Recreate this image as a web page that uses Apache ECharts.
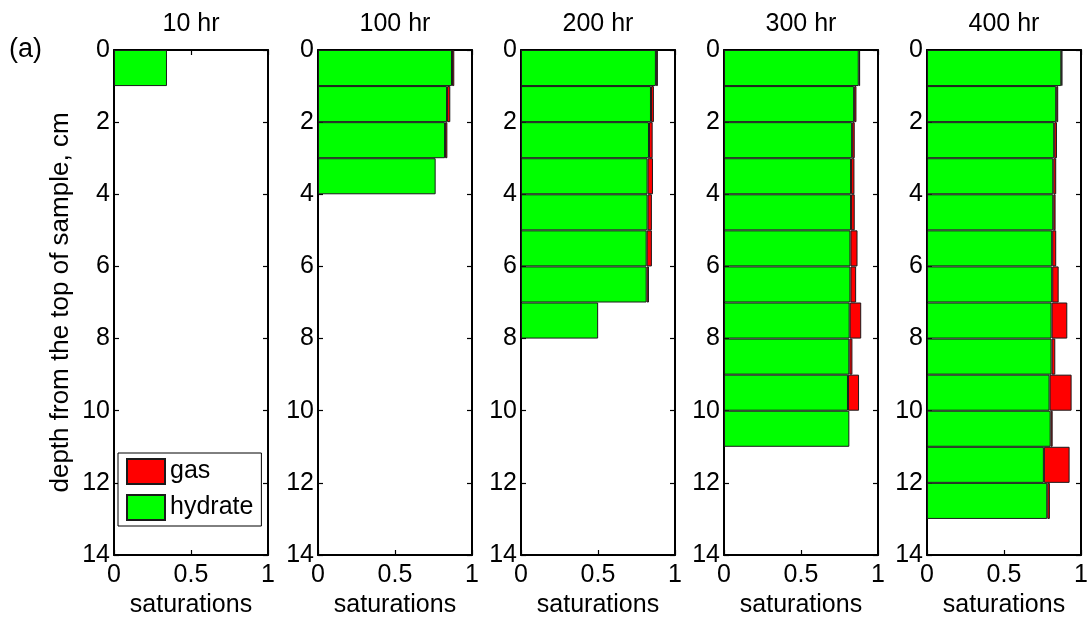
<!DOCTYPE html>
<html>
<head>
<meta charset="utf-8">
<script src="https://cdn.jsdelivr.net/npm/echarts@6/dist/echarts.min.js"></script>
<style>
html,body{margin:0;padding:0;background:#fff;}
#chart{width:1089px;height:617px;}
</style>
</head>
<body>
<div id="chart"></div>
<script>
// ---- data ----
const panelTitles = ['10 hr', '100 hr', '200 hr', '300 hr', '400 hr'];
const depthCategories = ['0','1','2','3','4','5','6','7','8','9','10','11','12','13'];
const xTicks = [0, 0.5, 1];
const yTicks = [0, 2, 4, 6, 8, 10, 12, 14];

const hydrate10  = [0.344];
const gas10      = [null];
const hydrate100 = [0.870, 0.838, 0.825, 0.764];
const gas100     = [0.015, 0.021, 0.015, null];
const hydrate200 = [0.876, 0.844, 0.831, 0.822, 0.822, 0.816, 0.816, 0.501];
const gas200     = [0.013, 0.019, 0.024, 0.035, 0.028, 0.034, 0.015, null];
const hydrate300 = [0.875, 0.845, 0.832, 0.825, 0.825, 0.821, 0.821, 0.816, 0.814, 0.805, 0.814];
const gas300     = [0.009, 0.015, 0.017, 0.022, 0.024, 0.046, 0.037, 0.075, 0.020, 0.072, null];
const hydrate400 = [0.872, 0.839, 0.826, 0.820, 0.820, 0.813, 0.813, 0.809, 0.809, 0.796, 0.803, 0.759, 0.781];
const gas400     = [0.007, 0.013, 0.018, 0.019, 0.015, 0.026, 0.042, 0.102, 0.024, 0.143, 0.013, 0.167, 0.017];

const hydrateSets = [hydrate10, hydrate100, hydrate200, hydrate300, hydrate400];
const gasSets = [gas10, gas100, gas200, gas300, gas400];

// ---- layout ----
const gridLefts = [114, 318, 521, 724, 927];
const gridW = 154, gridTop = 50, gridH = 505;
const FONT = '"Liberation Sans", Arial, sans-serif';
const FS = 25;

const grids = [], xAxes = [], yAxes = [], series = [], titles = [];
panelTitles.forEach((t, i) => {
  grids.push({left: gridLefts[i], top: gridTop, width: gridW, height: gridH,
    containLabel: false, outerBoundsMode: 'none'});
  titles.push({
    text: t, left: gridLefts[i] + gridW / 2 - 5, top: 7, textAlign: 'center',
    textStyle: {fontFamily: FONT, fontSize: FS, fontWeight: 'normal', color: '#000'}
  });
  const lineStyle = {color: '#000', width: 2};
  const tick = {show: true, inside: true, length: 5, lineStyle: {color: '#000', width: 1.2}};
  // bottom x
  xAxes.push({
    type: 'value', gridIndex: i, position: 'bottom', min: 0, max: 1, interval: 0.5,
    axisLine: {show: true, onZero: false, lineStyle}, axisTick: tick,
    axisLabel: {fontFamily: FONT, fontSize: FS, color: '#000', margin: 8,
      formatter: v => xTicks.indexOf(v) >= 0 ? String(v) : ''},
    splitLine: {show: false},
    name: 'saturations', nameLocation: 'middle', nameGap: 33,
    nameTextStyle: {fontFamily: FONT, fontSize: FS, color: '#000'}
  });
  // top x (mirror)
  xAxes.push({
    type: 'value', gridIndex: i, position: 'top', min: 0, max: 1, interval: 0.5,
    axisLine: {show: true, onZero: false, lineStyle}, axisTick: tick,
    axisLabel: {show: false}, splitLine: {show: false}
  });
  // left y value
  const yl = {
    type: 'value', gridIndex: i, position: 'left', min: 0, max: 14, interval: 2, inverse: true,
    axisLine: {show: true, onZero: false, lineStyle}, axisTick: tick,
    axisLabel: {fontFamily: FONT, fontSize: FS, color: '#000', margin: 4,
      formatter: v => yTicks.indexOf(v) >= 0 ? String(v) : ''},
    splitLine: {show: false}
  };
  if (i === 0) {
    yl.name = 'depth from the top of sample, cm';
    yl.nameLocation = 'middle';
    yl.nameGap = 40;
    yl.nameTextStyle = {fontFamily: FONT, fontSize: FS + 1, color: '#000'};
  }
  yAxes.push(yl);
  // right y (mirror)
  yAxes.push({
    type: 'value', gridIndex: i, position: 'right', min: 0, max: 14, interval: 2, inverse: true,
    axisLine: {show: true, onZero: false, lineStyle}, axisTick: tick,
    axisLabel: {show: false}, splitLine: {show: false}
  });
  // hidden category y for bars
  yAxes.push({
    type: 'category', gridIndex: i, data: depthCategories, inverse: true, show: false,
    axisLine: {onZero: false}
  });
  const xi = 2 * i, yi = 3 * i + 2;
  series.push({
    name: 'hydrate', type: 'bar', stack: 's' + i, xAxisIndex: xi, yAxisIndex: yi,
    data: hydrateSets[i], barCategoryGap: '0%', barGap: '0%',
    itemStyle: {color: '#00ff00', borderColor: '#1a1a1a', borderWidth: 1},
    silent: true
  });
  series.push({
    name: 'gas', type: 'bar', stack: 's' + i, xAxisIndex: xi, yAxisIndex: yi,
    data: gasSets[i], barCategoryGap: '0%', barGap: '0%',
    itemStyle: {color: '#ff0000', borderColor: '#1a1a1a', borderWidth: 1},
    silent: true
  });
});

const chart = echarts.init(document.getElementById('chart'), null, {renderer: 'canvas'});
chart.setOption({
  animation: false,
  backgroundColor: '#fff',
  title: titles,
  grid: grids,
  xAxis: xAxes,
  yAxis: yAxes,
  series: series,
  legend: {
    data: [{name: 'gas', icon: 'rect'}, {name: 'hydrate', icon: 'rect'}],
    orient: 'vertical', left: 118, top: 453,
    itemWidth: 38, itemHeight: 25, itemGap: 9,
    padding: [5, 8, 5, 8], borderColor: '#000', borderWidth: 1, borderRadius: 0,
    backgroundColor: '#fff',
    textStyle: {fontFamily: FONT, fontSize: FS, color: '#000'},
    selectedMode: false
  },
  graphic: [{
    type: 'text', left: 9, top: 36,
    style: {text: '(a)', fontFamily: FONT, fontSize: 27, fill: '#000'}
  }]
});
</script>
</body>
</html>
